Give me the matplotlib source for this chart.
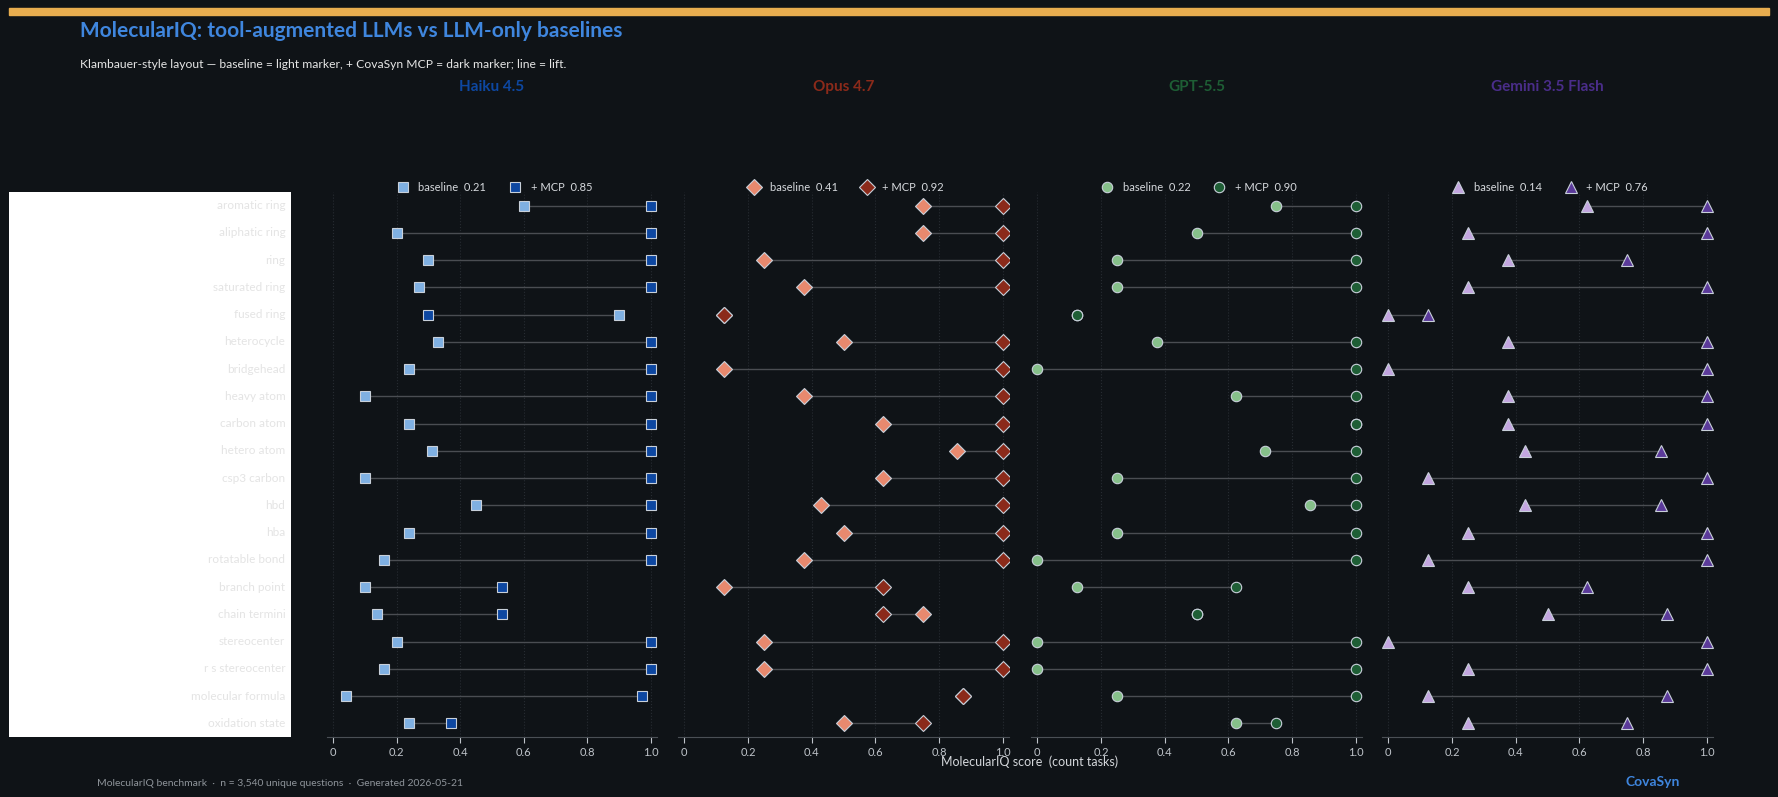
import numpy as np
import matplotlib
matplotlib.use("Agg")
import matplotlib.pyplot as plt
from matplotlib.lines import Line2D

plt.rcParams['font.family'] = ['Lato', 'DejaVu Sans']

# ---- data ----
tasks = ["aromatic ring", "aliphatic ring", "ring", "saturated ring", "fused ring",
         "heterocycle", "bridgehead", "heavy atom", "carbon atom", "hetero atom",
         "csp3 carbon", "hbd", "hba", "rotatable bond", "branch point",
         "chain termini", "stereocenter", "r s stereocenter", "molecular formula",
         "oxidation state"]

models = ["Haiku 4.5", "Opus 4.7", "GPT-5.5", "Gemini 3.5 Flash"]

haiku_base = [0.60, 0.20, 0.30, 0.27, 0.90, 0.33, 0.24, 0.10, 0.24, 0.31,
              0.10, 0.45, 0.24, 0.16, 0.10, 0.14, 0.20, 0.16, 0.04, 0.24]
haiku_mcp = [1.0, 1.0, 1.0, 1.0, 0.30, 1.0, 1.0, 1.0, 1.0, 1.0,
             1.0, 1.0, 1.0, 1.0, 0.53, 0.53, 1.0, 1.0, 0.97, 0.37]

opus_base = [0.75, 0.75, 0.25, 0.375, 0.125, 0.50, 0.125, 0.375, 0.625, 0.857,
             0.625, 0.43, 0.50, 0.375, 0.125, 0.75, 0.25, 0.25, 0.875, 0.50]
opus_mcp = [1.0, 1.0, 1.0, 1.0, 0.125, 1.0, 1.0, 1.0, 1.0, 1.0,
            1.0, 1.0, 1.0, 1.0, 0.625, 0.625, 1.0, 1.0, 0.875, 0.75]

gpt_base = [0.75, 0.50, 0.25, 0.25, 0.125, 0.375, 0.0, 0.625, 1.0, 0.714,
            0.25, 0.857, 0.25, 0.0, 0.125, 0.50, 0.0, 0.0, 0.25, 0.625]
gpt_mcp = [1.0, 1.0, 1.0, 1.0, 0.125, 1.0, 1.0, 1.0, 1.0, 1.0,
           1.0, 1.0, 1.0, 1.0, 0.625, 0.50, 1.0, 1.0, 1.0, 0.75]

gemini_base = [0.625, 0.25, 0.375, 0.25, 0.0, 0.375, 0.0, 0.375, 0.375, 0.43,
               0.125, 0.43, 0.25, 0.125, 0.25, 0.50, 0.0, 0.25, 0.125, 0.25]
gemini_mcp = [1.0, 1.0, 0.75, 1.0, 0.125, 1.0, 1.0, 1.0, 1.0, 0.857,
              1.0, 0.857, 1.0, 1.0, 0.625, 0.875, 1.0, 1.0, 0.875, 0.75]

mean_base = [0.21, 0.41, 0.22, 0.14]
mean_mcp = [0.85, 0.92, 0.90, 0.76]

base_vals = [haiku_base, opus_base, gpt_base, gemini_base]
mcp_vals = [haiku_mcp, opus_mcp, gpt_mcp, gemini_mcp]

# ---- styles ----
BG = "#0f1317"
light_cols = ["#7fb0e2", "#e8896e", "#86c08a", "#c3a6e0"]
dark_cols = ["#0d47a1", "#8b2a1a", "#1e5e35", "#5b3a9a"]
title_cols = ["#0d47a1", "#8b2a1a", "#1e5e35", "#4a2d8a"]
markers = ["s", "D", "o", "^"]
msizes = [7.5, 8, 7.5, 8.5]
edge = "#c8d0da"

fig = plt.figure(figsize=(17.78, 7.97), dpi=100, facecolor=BG)

# top accent bar
fig.patches.append(plt.Rectangle((9 / 1778, 1 - 15 / 797), 1760 / 1778, 7 / 797,
                                 transform=fig.transFigure, color="#e8ad4f", zorder=5))

fig.text(80 / 1778, 1 - 31 / 797, "MolecularIQ: tool-augmented LLMs vs LLM-only baselines",
         color="#3f86de", fontsize=15, fontweight="bold", va="center", ha="left")
fig.text(80 / 1778, 1 - 65 / 797,
         "Klambauer-style layout \u2014 baseline = light marker, + CovaSyn MCP = dark marker; line = lift.",
         color="#e6e6e6", fontsize=8.7, va="center", ha="left")

bottom = 1 - 737 / 797
height = (737 - 192) / 797
n = len(tasks)
y = np.arange(n)

# label panel
lab_ax = fig.add_axes([9 / 1778, bottom, 282 / 1778, height])
lab_ax.set_facecolor("white")
lab_ax.set_xlim(0, 1)
lab_ax.set_ylim(n - 0.5, -0.5)
for s in lab_ax.spines.values():
    s.set_visible(False)
lab_ax.set_xticks([])
lab_ax.set_yticks([])
for i, t in enumerate(tasks):
    lab_ax.text(0.98, i, t, ha="right", va="center", color="#e4e4e4", fontsize=8.5)

lefts = [326.5, 678, 1031, 1382]
for k in range(4):
    ax = fig.add_axes([lefts[k] / 1778, bottom, 331 / 1778, height])
    ax.set_facecolor(BG)
    ax.set_xlim(-0.02, 1.02)
    ax.set_ylim(n - 0.5, -0.5)
    for side in ["top", "right", "left"]:
        ax.spines[side].set_visible(False)
    ax.spines["bottom"].set_color("#4a4f55")
    ax.set_yticks([])
    ax.set_xticks([0, 0.2, 0.4, 0.6, 0.8, 1.0])
    ax.set_xticklabels(["0", "0.2", "0.4", "0.6", "0.8", "1.0"])
    ax.tick_params(axis="x", colors="#bfc4ca", labelsize=8, length=4, width=0.8)
    ax.grid(axis="x", color="#272c32", linestyle=":", linewidth=0.8)
    ax.set_axisbelow(True)

    b = np.array(base_vals[k])
    m = np.array(mcp_vals[k])
    ax.hlines(y, b, m, color="#4a4d52", linewidth=1.0, zorder=2)
    ax.plot(b, y, linestyle="none", marker=markers[k], markersize=msizes[k],
            markerfacecolor=light_cols[k], markeredgecolor=edge, markeredgewidth=0.8, zorder=3)
    ax.plot(m, y, linestyle="none", marker=markers[k], markersize=msizes[k],
            markerfacecolor=dark_cols[k], markeredgecolor=edge, markeredgewidth=0.8, zorder=4)

    handles = [
        Line2D([], [], linestyle="none", marker=markers[k], markersize=msizes[k],
               markerfacecolor=light_cols[k], markeredgecolor=edge, markeredgewidth=0.8,
               label=f"baseline  {mean_base[k]:.2f}"),
        Line2D([], [], linestyle="none", marker=markers[k], markersize=msizes[k],
               markerfacecolor=dark_cols[k], markeredgecolor=edge, markeredgewidth=0.8,
               label=f"+ MCP  {mean_mcp[k]:.2f}"),
    ]
    leg = ax.legend(handles=handles, loc="lower center", bbox_to_anchor=(0.5, 0.99),
                    ncol=2, frameon=False, fontsize=8, handletextpad=0.4,
                    columnspacing=1.6, borderaxespad=0.0)
    for txt in leg.get_texts():
        txt.set_color("#d6d9dd")

    fig.text((lefts[k] + 165.5) / 1778, 1 - 87 / 797, models[k], color=title_cols[k],
             fontsize=11, fontweight="bold", ha="center", va="center")

fig.text(1030 / 1778, 1 - 762 / 797, "MolecularIQ score  (count tasks)",
         color="#d4d7db", fontsize=9, ha="center", va="center")

fig.text(97 / 1778, 1 - 783 / 797,
         "MolecularIQ benchmark  \u00b7  n = 3,540 unique questions  \u00b7  Generated 2026-05-21",
         color="#8e949a", fontsize=7.5, ha="left", va="center")
fig.text(1680 / 1778, 1 - 782 / 797, "CovaSyn", color="#3f86de", fontsize=10,
         fontweight="bold", ha="right", va="center")

fig.savefig("out.png", dpi=100, facecolor=BG)
